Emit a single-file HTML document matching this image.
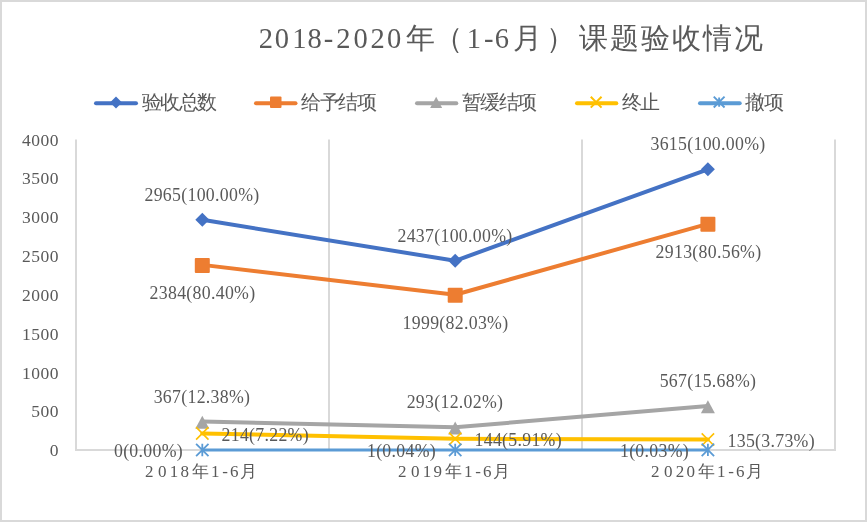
<!DOCTYPE html>
<html><head><meta charset="utf-8"><style>
html,body{margin:0;padding:0;background:#fff;}
body{width:867px;height:522px;overflow:hidden;position:relative;}
svg{position:absolute;left:0;top:0;will-change:transform;font-family:"Liberation Serif",serif;fill:#595959;}
</style></head><body>
<svg width="867" height="522" viewBox="0 0 867 522">
<rect x="1" y="1" width="865" height="520" fill="#fff" stroke="#D9D9D9" stroke-width="2"/>
<text x="258.70 274.80 292.30 307.60 323.70 336.30 353.40 370.50 387.00 406.20 433.50 466.70 483.90 494.80 512.90 546.30 578.50 609.55 640.60 671.65 702.70 733.75" y="47.6" font-size="28.5" fill="#595959">2018-2020<tspan font-weight="300">年（</tspan>1-6<tspan font-weight="300">月）课题验收情况</tspan></text>
<g><line x1="96" y1="103.2" x2="136" y2="103.2" stroke="#4472C4" stroke-width="4" stroke-linecap="round"/><path d="M116.00 96.40L122.00 102.40L116.00 108.40L110.00 102.40Z" fill="#4472C4"/><text x="141.50" y="108.6" font-size="19.5" letter-spacing="-1.5" font-weight="300">验收总数</text><line x1="256" y1="103.2" x2="295.5" y2="103.2" stroke="#ED7D31" stroke-width="4" stroke-linecap="round"/><rect x="270.00" y="96.55" width="11.5" height="11.5" rx="1" fill="#ED7D31"/><text x="301.00" y="108.6" font-size="19.5" letter-spacing="-1.5" font-weight="300">给予结项</text><line x1="417" y1="103.2" x2="456.3" y2="103.2" stroke="#A5A5A5" stroke-width="4" stroke-linecap="round"/><path d="M436.15 96.70L442.15 108.10L430.15 108.10Z" fill="#A5A5A5"/><text x="461.80" y="108.6" font-size="19.5" letter-spacing="-1.5" font-weight="300">暂缓结项</text><line x1="577" y1="103.2" x2="616.3" y2="103.2" stroke="#FFC000" stroke-width="4" stroke-linecap="round"/><path d="M590.75 96.80L601.55 107.60M601.55 96.80L590.75 107.60" stroke="#FFC000" stroke-width="2" fill="none"/><text x="621.80" y="108.6" font-size="19.5" letter-spacing="-1.5" font-weight="300">终止</text><line x1="700" y1="103.2" x2="739.7" y2="103.2" stroke="#5B9BD5" stroke-width="4" stroke-linecap="round"/><path d="M713.75 96.70L724.55 107.50M724.55 96.70L713.75 107.50M719.15 97.50L719.15 106.70" stroke="#5B9BD5" stroke-width="1.9" fill="none"/><text x="745.20" y="108.6" font-size="19.5" letter-spacing="-1.5" font-weight="300">撤项</text></g>
<g><line x1="76" y1="139.4" x2="76" y2="451" stroke="#D9D9D9" stroke-width="2"/><line x1="329" y1="139.4" x2="329" y2="451" stroke="#D9D9D9" stroke-width="2"/><line x1="582" y1="139.4" x2="582" y2="451" stroke="#D9D9D9" stroke-width="2"/><line x1="835" y1="139.4" x2="835" y2="451" stroke="#D9D9D9" stroke-width="2"/><line x1="75" y1="450" x2="836" y2="450" stroke="#D9D9D9" stroke-width="2"/><polyline points="202.30,219.77 455.20,260.77 707.90,169.30" fill="none" stroke="#4472C4" stroke-width="4" stroke-linejoin="round" stroke-linecap="round"/><path d="M202.30 212.77L209.30 219.77L202.30 226.77L195.30 219.77Z" fill="#4472C4"/><path d="M455.20 253.77L462.20 260.77L455.20 267.77L448.20 260.77Z" fill="#4472C4"/><path d="M707.90 162.30L714.90 169.30L707.90 176.30L700.90 169.30Z" fill="#4472C4"/><polyline points="202.30,264.88 455.20,294.78 707.90,223.81" fill="none" stroke="#ED7D31" stroke-width="4" stroke-linejoin="round" stroke-linecap="round"/><rect x="194.80" y="257.88" width="15" height="15" rx="1" fill="#ED7D31"/><rect x="447.70" y="287.78" width="15" height="15" rx="1" fill="#ED7D31"/><rect x="700.40" y="216.81" width="15" height="15" rx="1" fill="#ED7D31"/><polyline points="202.30,421.50 455.20,427.25 707.90,405.97" fill="none" stroke="#A5A5A5" stroke-width="4" stroke-linejoin="round" stroke-linecap="round"/><path d="M202.30 415.70L209.30 428.70L195.30 428.70Z" fill="#A5A5A5"/><path d="M455.20 421.45L462.20 434.45L448.20 434.45Z" fill="#A5A5A5"/><path d="M707.90 400.17L714.90 413.17L700.90 413.17Z" fill="#A5A5A5"/><polyline points="202.30,433.38 455.20,438.82 707.90,439.52" fill="none" stroke="#FFC000" stroke-width="4" stroke-linejoin="round" stroke-linecap="round"/><path d="M196.10 427.18L208.50 439.58M208.50 427.18L196.10 439.58" stroke="#FFC000" stroke-width="1.6" fill="none"/><path d="M449.00 432.62L461.40 445.02M461.40 432.62L449.00 445.02" stroke="#FFC000" stroke-width="1.6" fill="none"/><path d="M701.70 433.32L714.10 445.72M714.10 433.32L701.70 445.72" stroke="#FFC000" stroke-width="1.6" fill="none"/><polyline points="202.30,450.00 455.20,449.92 707.90,449.92" fill="none" stroke="#5B9BD5" stroke-width="3" stroke-linejoin="round" stroke-linecap="round"/><path d="M196.10 443.80L208.50 456.20M208.50 443.80L196.10 456.20M202.30 443.80L202.30 456.20" stroke="#5B9BD5" stroke-width="1.8" fill="none"/><path d="M449.00 443.72L461.40 456.12M461.40 443.72L449.00 456.12M455.20 443.72L455.20 456.12" stroke="#5B9BD5" stroke-width="1.8" fill="none"/><path d="M701.70 443.72L714.10 456.12M714.10 443.72L701.70 456.12M707.90 443.72L707.90 456.12" stroke="#5B9BD5" stroke-width="1.8" fill="none"/></g>
<g font-size="17.8" letter-spacing="0.3" fill="#595959"><text x="202.00" y="200.77" text-anchor="middle">2965(100.00%)</text><text x="202.50" y="299.08" text-anchor="middle">2384(80.40%)</text><text x="202.00" y="402.50" text-anchor="middle">367(12.38%)</text><text x="221.50" y="440.98" text-anchor="start">214(7.22%)</text><text x="183.00" y="457.00" text-anchor="end">0(0.00%)</text><text x="455.00" y="241.77" text-anchor="middle">2437(100.00%)</text><text x="455.50" y="328.98" text-anchor="middle">1999(82.03%)</text><text x="455.00" y="408.25" text-anchor="middle">293(12.02%)</text><text x="474.50" y="446.42" text-anchor="start">144(5.91%)</text><text x="436.00" y="456.92" text-anchor="end">1(0.04%)</text><text x="708.00" y="150.30" text-anchor="middle">3615(100.00%)</text><text x="708.50" y="258.01" text-anchor="middle">2913(80.56%)</text><text x="708.00" y="386.97" text-anchor="middle">567(15.68%)</text><text x="727.50" y="447.12" text-anchor="start">135(3.73%)</text><text x="689.00" y="456.92" text-anchor="end">1(0.03%)</text></g>
<g font-size="17.5" letter-spacing="0.45" fill="#595959"><text x="58.9" y="456.20" text-anchor="end">0</text><text x="58.9" y="417.38" text-anchor="end">500</text><text x="58.9" y="378.55" text-anchor="end">1000</text><text x="58.9" y="339.72" text-anchor="end">1500</text><text x="58.9" y="300.90" text-anchor="end">2000</text><text x="58.9" y="262.07" text-anchor="end">2500</text><text x="58.9" y="223.25" text-anchor="end">3000</text><text x="58.9" y="184.42" text-anchor="end">3500</text><text x="58.9" y="145.60" text-anchor="end">4000</text></g>
<g font-size="17" fill="#595959"><text x="145.10 157.90 169.80 180.40 191.80 210.90 222.20 230.00 239.90" y="477">2018<tspan font-weight="300">年</tspan>1-6<tspan font-weight="300">月</tspan></text><text x="398.10 410.90 422.80 433.40 444.80 463.90 475.20 483.00 492.90" y="477">2019<tspan font-weight="300">年</tspan>1-6<tspan font-weight="300">月</tspan></text><text x="651.10 663.90 675.80 686.40 697.80 716.90 728.20 736.00 745.90" y="477">2020<tspan font-weight="300">年</tspan>1-6<tspan font-weight="300">月</tspan></text></g>
</svg>
</body></html>
